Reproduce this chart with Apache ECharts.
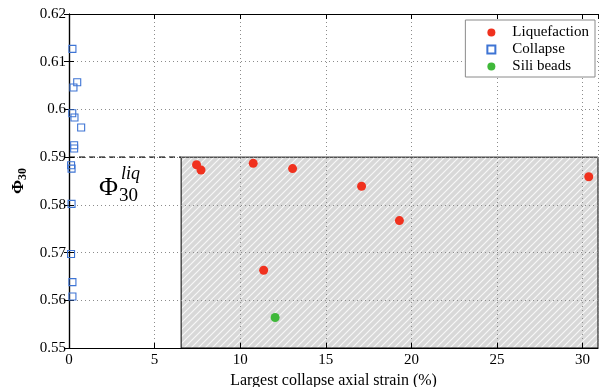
<!DOCTYPE html>
<html>
<head>
<meta charset="utf-8">
<script src="https://cdn.jsdelivr.net/npm/echarts@6/dist/echarts.min.js"></script>
<style>html,body{margin:0;padding:0;background:#fff;}#c{width:601px;height:387px;}</style>
</head>
<body>
<div id="c"></div>
<script>
// ---- data ----
const liqStrain = [7.45, 7.71, 10.76, 13.06, 17.09, 19.30, 11.37, 30.36];
const liqPhi    = [0.5884, 0.5873, 0.5887, 0.5876, 0.5839, 0.5767, 0.5663, 0.5859];
const colStrain = [0.20, 0.48, 0.26, 0.19, 0.32, 0.71, 0.30, 0.30, 0.12, 0.15, 0.15, 0.12, 0.20, 0.20];
const colPhi    = [0.6127, 0.6057, 0.6046, 0.5992, 0.5983, 0.5962, 0.5925, 0.5918, 0.5883, 0.5876, 0.5802, 0.5697, 0.5638, 0.5608];
const siliStrain = [12.04];
const siliPhi    = [0.5564];
const liqThreshold = 0.59;
const zoneStrainMin = 6.55;
const xMin = 0, xMax = 30.9, xStep = 5;
const yMin = 0.55, yMax = 0.62, yStep = 0.01;
const seriesNames = ['Liquefaction', 'Collapse', 'Sili beads'];
const xTitle = 'Largest collapse axial strain (%)';

const zip = (a, b) => a.map((v, i) => [v, b[i]]);
const serif = 'Liberation Serif';

// hatch pattern (45° light stripes on grey)
const pc = document.createElement('canvas');
const pw = 7, ph = 7;
pc.width = pw; pc.height = ph;
const ctx = pc.getContext('2d');
ctx.fillStyle = '#d8d8d8';
ctx.fillRect(0, 0, pw, ph);
ctx.strokeStyle = 'rgba(255,255,255,0.8)';
ctx.lineWidth = 1.2;
[-pw, 0, pw].forEach(o => {
  ctx.beginPath();
  ctx.moveTo(o - pw, 2 * ph);
  ctx.lineTo(o + 2 * pw, -ph);
  ctx.stroke();
});

const chart = echarts.init(document.getElementById('c'), null, {renderer: 'canvas'});
const axisLine = {show: true, lineStyle: {color: '#000', width: 1.2}};
const split = {show: true, lineStyle: {color: '#8c8c8c', type: [1, 3], width: 1}};
chart.setOption({
  animation: false,
  backgroundColor: '#fff',
  grid: {left: 69, right: 3, top: 14, bottom: 39, containLabel: false, outerBoundsMode: 'none'},
  legend: {
    data: seriesNames,
    orient: 'vertical',
    right: 6, top: 20,
    backgroundColor: '#fff',
    borderColor: '#8a8a8a', borderWidth: 1, borderRadius: 0,
    padding: [5, 6, 3, 21],
    itemGap: 2, itemWidth: 8, itemHeight: 8,
    textStyle: {fontFamily: serif, fontSize: 15, lineHeight: 15, color: '#000', padding: [0, 0, 0, 12]},
    z: 20
  },
  xAxis: [{
    type: 'value', min: xMin, max: xMax, interval: xStep, z: 3,
    axisLine: axisLine,
    axisTick: {inside: true, length: 5, lineStyle: {color: '#000'}},
    axisLabel: {fontFamily: serif, fontSize: 15, color: '#000', margin: 5, showMaxLabel: false,
      formatter: v => (Math.abs(v / xStep - Math.round(v / xStep)) < 1e-6 ? String(v) : '')},
    splitLine: split,
    name: xTitle, nameLocation: 'middle', nameGap: 22,
    nameTextStyle: {fontFamily: serif, fontSize: 16, color: '#000'}
  }, {
    type: 'value', position: 'top', min: xMin, max: xMax, interval: xStep, z: 3,
    axisLine: axisLine,
    axisTick: {inside: true, length: 5, lineStyle: {color: '#000'}},
    axisLabel: {show: false}, splitLine: {show: false}
  }],
  yAxis: [{
    type: 'value', min: yMin, max: yMax, interval: yStep, z: 3,
    axisLine: axisLine,
    axisTick: {inside: true, length: 5, lineStyle: {color: '#000'}},
    axisLabel: {fontFamily: serif, fontSize: 15, color: '#000', margin: 3},
    splitLine: split,
    name: '{p|Φ}{s|30}', nameLocation: 'middle', nameGap: 36,
    nameTextStyle: {color: '#000', rich: {
      p: {fontFamily: serif, fontSize: 17, fontWeight: 'bold', color: '#000'},
      s: {fontFamily: serif, fontSize: 12, fontWeight: 'bold', color: '#000', padding: [8, 0, 0, 0]}
    }}
  }, {
    type: 'value', position: 'right', min: yMin, max: yMax, interval: yStep, z: 3,
    axisLine: axisLine,
    axisTick: {inside: true, length: 5, lineStyle: {color: '#000'}},
    axisLabel: {show: false}, splitLine: {show: false}
  }],
  series: [{
    name: 'zone', type: 'line', data: zip([0, zoneStrainMin], [liqThreshold, liqThreshold]),
    symbol: 'none', z: 1, silent: true,
    lineStyle: {color: '#000', width: 1.2, type: [6, 4]},
    markArea: {
      silent: true,
      itemStyle: {color: {image: pc, repeat: 'repeat'}, borderColor: '#000', borderWidth: 1},
      data: [[{coord: [zoneStrainMin, liqThreshold]}, {coord: [xMax, yMin]}]]
    }
  }, {
    name: seriesNames[0], type: 'scatter', z: 5, symbol: 'circle', symbolSize: 9,
    itemStyle: {color: '#f0311e', opacity: 1},
    data: zip(liqStrain, liqPhi)
  }, {
    name: seriesNames[1], type: 'scatter', z: 5, symbol: 'rect', symbolSize: 7,
    itemStyle: {color: 'rgba(255,255,255,0)', borderColor: '#3e74d4', borderWidth: 1.1, opacity: 1},
    data: zip(colStrain, colPhi)
  }, {
    name: seriesNames[2], type: 'scatter', z: 5, symbol: 'circle', symbolSize: 9,
    itemStyle: {color: '#3fb83a', opacity: 1},
    data: zip(siliStrain, siliPhi)
  }],
  graphic: [
    {type: 'text', left: 99, top: 175, z: 10, style: {text: 'Φ', font: '26px "Liberation Serif"', fill: '#000'}},
    {type: 'text', left: 121, top: 165, z: 10, style: {text: 'liq', font: 'italic 18px "Liberation Serif"', fill: '#000'}},
    {type: 'text', left: 119, top: 187, z: 10, style: {text: '30', font: '19px "Liberation Serif"', fill: '#000'}}
  ]
});
</script>
</body>
</html>
